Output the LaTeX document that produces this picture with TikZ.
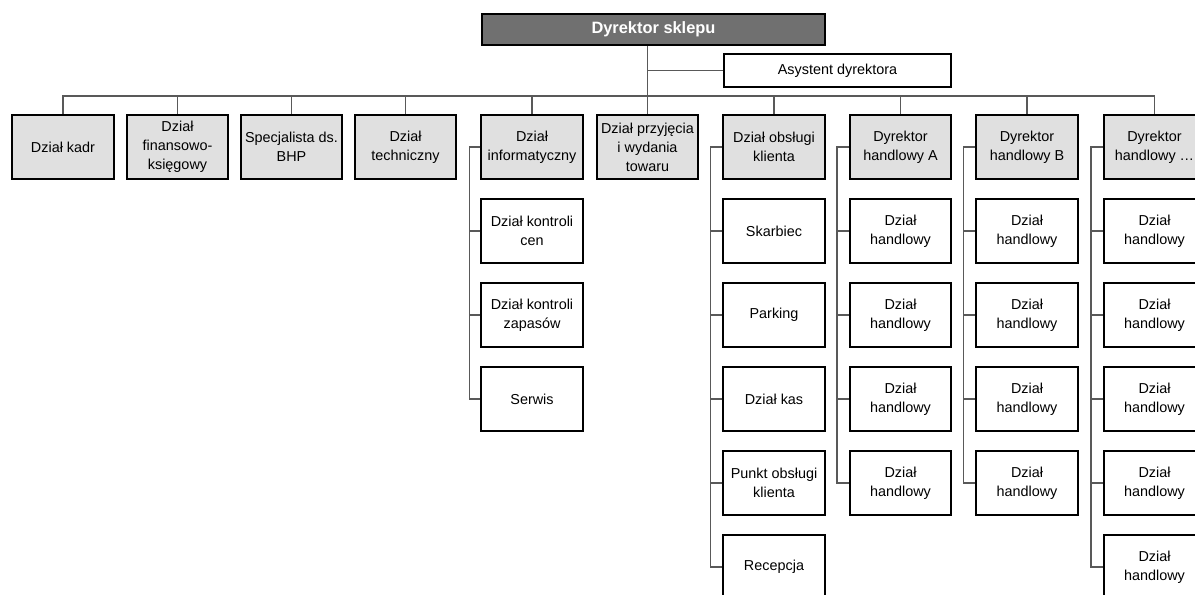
\documentclass[tikz,border=0pt]{standalone}
\usepackage{fontspec}
\setmainfont{Liberation Sans}
\usetikzlibrary{positioning}

\tikzset{
  box/.style={draw=black, line width=1.5pt, fill=white, minimum width=75.8pt,
    minimum height=48pt, align=center, inner sep=1pt,
    font=\fontsize{10.8}{14.2}\selectfont},
  topbox/.style={box, fill=black!12},
  headbox/.style={box, fill=black!56, text=white, minimum width=257.6pt,
    minimum height=23.5pt, font=\fontsize{12.3}{14}\selectfont\bfseries},
  conn/.style={draw=black!65, line width=0.8pt}
}

\begin{document}
\begin{tikzpicture}[x=0.75pt, y=-0.75pt, node distance=63pt, on grid]
\useasboundingbox (0,0) rectangle (1195,595);

\node[headbox] (dyr) at (653.5,29.5) {Dyrektor sklepu};
\node[box, minimum width=170.6pt, minimum height=25pt] (asyst) at (837.5,70.5) {Asystent dyrektora};

\node[topbox] (kadr)   at (63,147)     {Dział kadr};
\node[topbox] (finans) at (177.5,147)  {Dział\\finansowo-\\księgowy};
\node[topbox] (bhp)    at (291.5,147)  {Specjalista ds.\\BHP};
\node[topbox] (tech)   at (405.5,147)  {Dział\\techniczny};
\node[topbox] (info)   at (532,147)    {Dział\\informatyczny};
\node[topbox] (przyj)  at (647.5,147)  {Dział przyjęcia\\i wydania\\towaru};
\node[topbox] (obsl)   at (774,147)    {Dział obsługi\\klienta};
\node[topbox] (dyrA)   at (900.5,147)  {Dyrektor\\handlowy A};
\node[topbox] (dyrB)   at (1027,147)   {Dyrektor\\handlowy B};
\node[topbox] (dyrX)   at (1154.5,147) {Dyrektor\\handlowy \dots};

\node[box] (cen)    [below=of info]   {Dział kontroli\\cen};
\node[box] (zapas)  [below=of cen]    {Dział kontroli\\zapasów};
\node[box] (serwis) [below=of zapas]  {Serwis};

\node[box] (skarb)   [below=of obsl]   {Skarbiec};
\node[box] (parking) [below=of skarb]  {Parking};
\node[box] (kasy)    [below=of parking] {Dział kas};
\node[box] (punkt)   [below=of kasy]   {Punkt obsługi\\klienta};
\node[box] (recep)   [below=of punkt]  {Recepcja};

\foreach \p in {dyrA,dyrB,dyrX} {
  \node[box] (\p1) [below=of \p]  {Dział\\handlowy};
  \node[box] (\p2) [below=of \p1] {Dział\\handlowy};
  \node[box] (\p3) [below=of \p2] {Dział\\handlowy};
  \node[box] (\p4) [below=of \p3] {Dział\\handlowy};
}
\node[box] (dyrX5) [below=of dyrX4] {Dział\\handlowy};

\draw[conn] (dyr.south -| przyj.north) -- (przyj.north);
\draw[conn] (asyst.west) -- (asyst.west -| przyj.north);
\draw[conn] (kadr.north) -- ++(0,-18) -| (dyrX.north);
\foreach \n in {finans,bhp,tech,info,obsl,dyrA,dyrB}
  \draw[conn] (\n.north) -- ++(0,-18);

\draw[conn] (info.west) -- ++(-11,0) |- (serwis.west);
\foreach \n in {cen,zapas}
  \draw[conn] (\n.west) -- ++(-11,0);
\draw[conn] (obsl.west) -- ++(-12,0) |- (recep.west);
\foreach \n in {skarb,parking,kasy,punkt}
  \draw[conn] (\n.west) -- ++(-12,0);
\draw[conn] (dyrA.west) -- ++(-12,0) |- (dyrA4.west);
\draw[conn] (dyrB.west) -- ++(-12,0) |- (dyrB4.west);
\draw[conn] (dyrX.west) -- ++(-12,0) |- (dyrX5.west);
\foreach \p in {dyrA,dyrB,dyrX}
  \foreach \i in {1,2,3}
    \draw[conn] (\p\i.west) -- ++(-12,0);
\draw[conn] (dyrX4.west) -- ++(-12,0);
\end{tikzpicture}
\end{document}
